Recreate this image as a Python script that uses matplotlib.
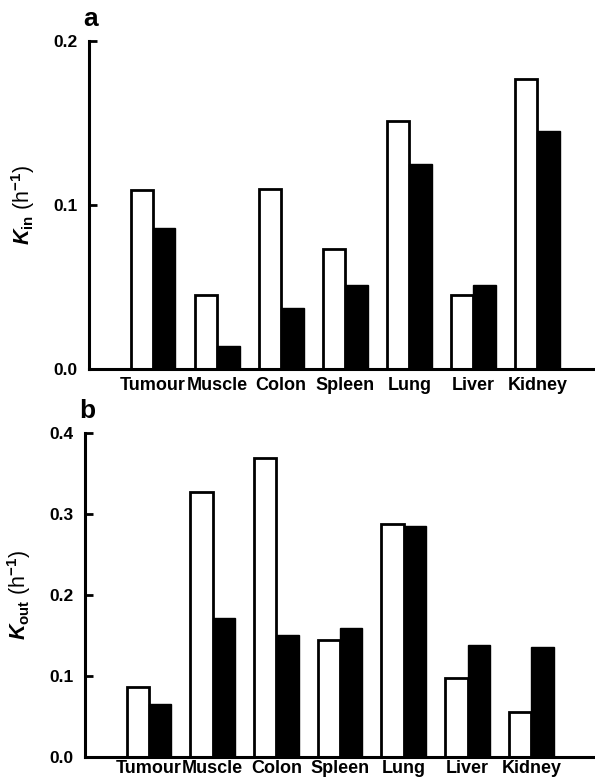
import matplotlib.pyplot as plt
import numpy as np

plt.rcParams['font.family'] = ['Liberation Sans', 'DejaVu Sans']
plt.rcParams['font.weight'] = 'bold'
plt.rcParams['mathtext.fontset'] = 'custom'
plt.rcParams['mathtext.rm'] = 'Liberation Sans:bold'
plt.rcParams['mathtext.it'] = 'Liberation Sans:italic:bold'

organs = ["Tumour", "Muscle", "Colon", "Spleen", "Lung", "Liver", "Kidney"]

kin_open = [0.109, 0.045, 0.110, 0.073, 0.151, 0.045, 0.177]
kin_filled = [0.086, 0.014, 0.037, 0.051, 0.125, 0.051, 0.145]

kout_open = [0.087, 0.327, 0.369, 0.145, 0.287, 0.098, 0.056]
kout_filled = [0.066, 0.171, 0.150, 0.159, 0.285, 0.138, 0.136]

fig = plt.figure(figsize=(5.95, 7.81), dpi=100)

x = np.arange(1, len(organs) + 1)
width = 0.35


def draw_panel(ax, open_vals, filled_vals, yticks, ylabel, letter, xmax, xpad):
    ax.bar(x - width / 2, open_vals, width, facecolor="white",
           edgecolor="black", linewidth=2.0)
    ax.bar(x + width / 2, filled_vals, width, facecolor="black",
           edgecolor="black", linewidth=1.0)
    ax.set_xlim(0, xmax)
    ax.set_ylim(0, yticks[-1])
    ax.set_yticks(yticks)
    ax.set_yticklabels(["%.1f" % t for t in yticks], fontsize=12.5, fontweight="bold")
    ax.set_xticks(x)
    ax.set_xticklabels(organs, fontsize=13, fontweight="bold")
    ax.tick_params(axis="x", length=0, pad=xpad)
    ax.tick_params(axis="y", direction="in", length=6, width=2, pad=8)
    ax.spines["top"].set_visible(False)
    ax.spines["right"].set_visible(False)
    ax.spines["left"].set_linewidth(2.2)
    ax.spines["bottom"].set_linewidth(2.2)
    ax.set_ylabel(ylabel, fontsize=15.5, labelpad=12)
    ax.text(-0.012, 1.03, letter, transform=ax.transAxes, fontsize=19,
            fontweight="bold", ha="left", va="bottom")


ax1 = fig.add_axes([0.1496, 0.5275, 0.8504, 0.42])
draw_panel(ax1, kin_open, kin_filled, [0.0, 0.1, 0.2],
           r"$\mathit{K}_{\mathrm{in}}$ (h$^{-1}$)", "a", 7.9, 6)

ax2 = fig.add_axes([0.143, 0.0305, 0.857, 0.4155])
draw_panel(ax2, kout_open, kout_filled, [0.0, 0.1, 0.2, 0.3, 0.4],
           r"$\mathit{K}_{\mathrm{out}}$ (h$^{-1}$)", "b", 8.0, 2)

plt.savefig("out.png", dpi=100)
